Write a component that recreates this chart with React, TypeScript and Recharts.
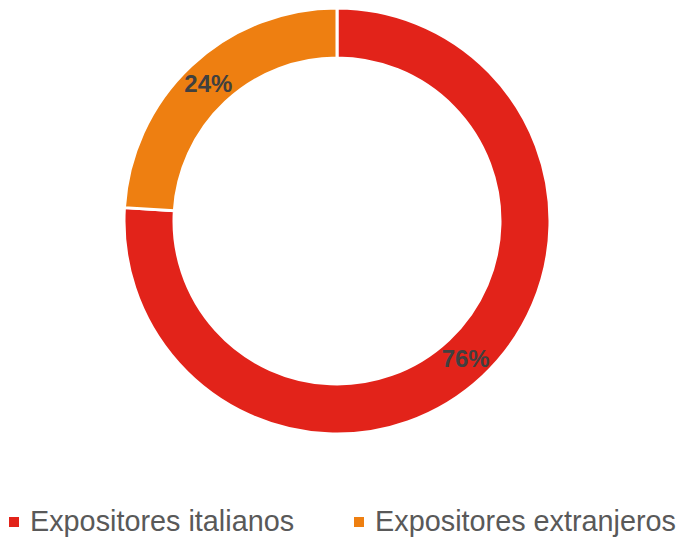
import { PieChart, Pie, Cell, Legend } from 'recharts';

const categories = ['Expositores italianos', 'Expositores extranjeros'];
const shares = [76, 24];
const COLORS = ['#E2231A', '#EE7F11'];

const data = categories.map((name, i) => ({ name, value: shares[i] }));

const RADIAN = Math.PI / 180;

function renderLabel({ cx, cy, midAngle, innerRadius, outerRadius, value }: any) {
  const r = (innerRadius + outerRadius) / 2;
  const x = cx + r * Math.cos(-midAngle * RADIAN);
  const y = cy + r * Math.sin(-midAngle * RADIAN);
  return (
    <text
      x={x}
      y={y}
      fill="#404040"
      textAnchor="middle"
      dominantBaseline="central"
      fontFamily="'Liberation Sans', Arial, sans-serif"
      fontWeight="bold"
      fontSize={24}
    >
      {`${value}%`}
    </text>
  );
}

function renderLegend() {
  return (
    <div
      style={{
        display: 'flex',
        alignItems: 'center',
        fontFamily: "'Liberation Sans', Arial, sans-serif",
        fontSize: 28.8,
        color: '#595959',
        whiteSpace: 'nowrap',
      }}
    >
      {categories.map((name, i) => (
        <div key={name} style={{ display: 'flex', alignItems: 'center', marginRight: i === 0 ? 60 : 0 }}>
          <span style={{ width: 10, height: 10, background: COLORS[i], marginRight: 11, display: 'inline-block' }} />
          <span>{name}</span>
        </div>
      ))}
    </div>
  );
}

export default function App() {
  return (
    <div style={{ position: 'absolute', left: 0, top: 0, background: '#fff' }}>
      <PieChart width={677} height={540} margin={{ top: 0, right: 0, bottom: 0, left: 0 }}>
        <Pie
          data={data}
          dataKey="value"
          nameKey="name"
          cx={337}
          cy={221}
          innerRadius={163}
          outerRadius={213}
          startAngle={90}
          endAngle={-270}
          stroke="#fff"
          strokeWidth={3}
          labelLine={false}
          label={renderLabel}
          isAnimationActive={false}
        >
          {data.map((entry, i) => (
            <Cell key={entry.name} fill={COLORS[i]} />
          ))}
        </Pie>
        <Legend
          content={renderLegend}
          wrapperStyle={{ position: 'absolute', left: 9, top: 505, width: 668 }}
        />
      </PieChart>
    </div>
  );
}
